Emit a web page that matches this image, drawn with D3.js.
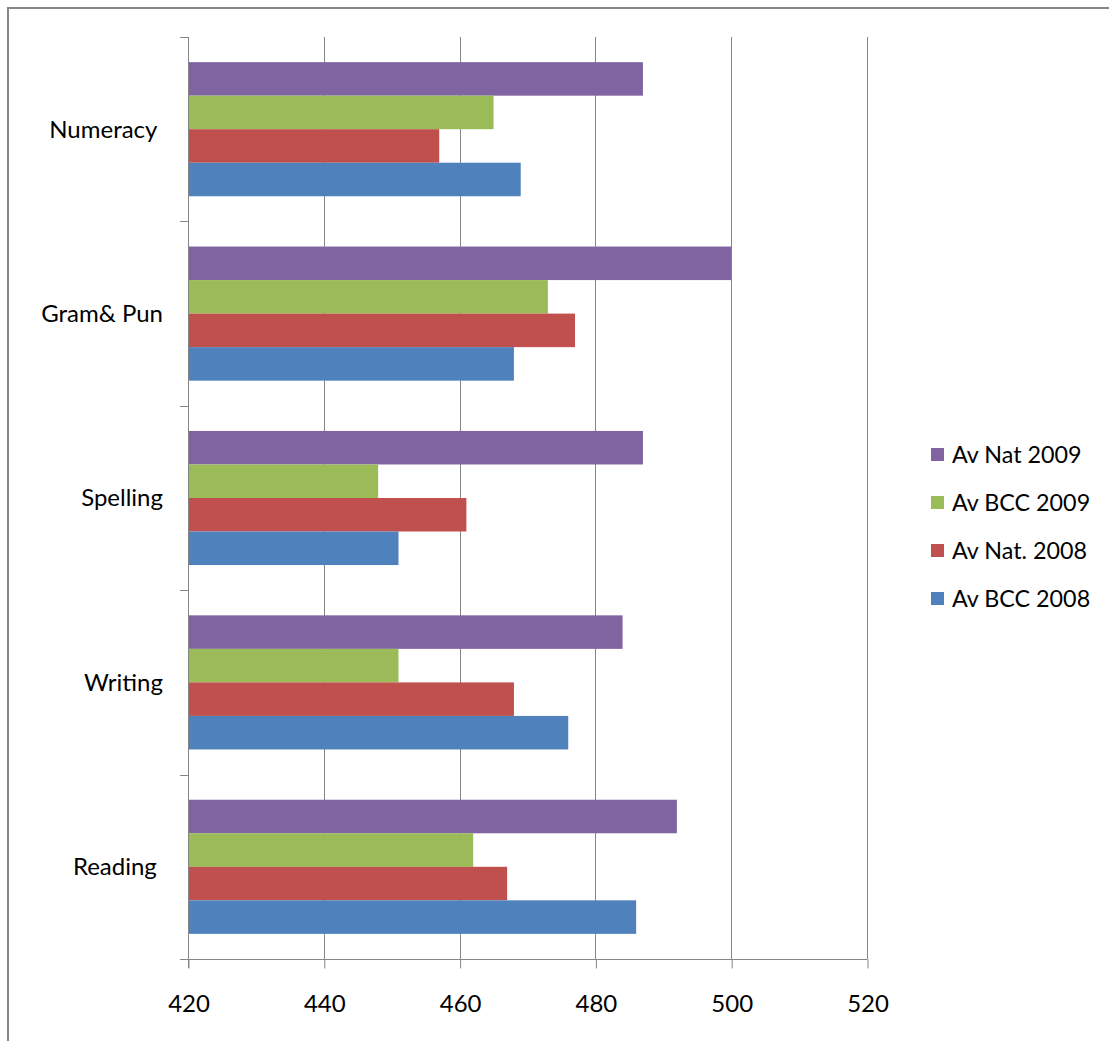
<!DOCTYPE html>
<html><head><meta charset="utf-8">
<script src="https://cdn.jsdelivr.net/npm/d3@7"></script>
<style>
html,body{margin:0;padding:0;background:#fff;}
text{font-family:Lato,"Open Sans",sans-serif;fill:#000;white-space:pre;}
</style></head>
<body>
<script>
const categories = ["Numeracy ", "Gram& Pun", "Spelling", "Writing", "Reading "];
const seriesNames = ["Av Nat 2009", "Av BCC 2009", "Av Nat. 2008", "Av BCC 2008"];
const seriesColors = ["#8064A2", "#9BBB59", "#C0504D", "#4F81BD"];
// values per series, in category order above
const avNat2009 = [487, 500, 487, 484, 492];
const avBcc2009 = [465, 473, 448, 451, 462];
const avNat2008 = [457, 477, 461, 468, 467];
const avBcc2008 = [469, 468, 451, 476, 486];
const seriesValues = [avNat2009, avBcc2009, avNat2008, avBcc2008];
const xTicks = [420, 440, 460, 480, 500, 520];

(function () {
const W = 1109, H = 1041, FS = 24, LFS = 23.3;
const svg = d3.select("body").append("svg").attr("width", W).attr("height", H);

// outer frame
svg.append("rect").attr("x", 8).attr("y", 8).attr("width", W + 10).attr("height", H + 10)
  .attr("fill", "none").attr("stroke", "#868686").attr("stroke-width", 2);

const pL = 188, pR = 867, pT = 37, pB = 959;
const x = d3.scaleLinear().domain([420, 520]).range([pL, pR]);
const y0 = d3.scaleBand().domain(categories).range([pT, pB]).paddingInner(0).paddingOuter(0);

// gridlines
svg.append("g").selectAll("line").data(xTicks.slice(1)).join("line")
  .attr("x1", d => Math.round(x(d)) + 0.5).attr("x2", d => Math.round(x(d)) + 0.5)
  .attr("y1", pT).attr("y2", pB)
  .attr("stroke", "#868686").attr("stroke-width", 1);

// bars
const bandH = y0.bandwidth();
const barH = bandH / (4 + 1.5);
const groupOff = (bandH - barH * 4) / 2;
const barY = d3.scaleBand().domain(seriesNames).range([groupOff, groupOff + barH * 4]);
seriesNames.forEach((s, si) => {
  svg.append("g").selectAll("rect").data(categories).join("rect")
    .attr("x", pL + 1)
    .attr("y", c => y0(c) + barY(s))
    .attr("width", (c, i) => x(seriesValues[si][i]) - pL - 1)
    .attr("height", barY.bandwidth())
    .attr("fill", seriesColors[si]);
});

// x axis
const xAxis = d3.axisBottom(x).tickValues(xTicks).tickSize(9).tickPadding(0).tickFormat(d3.format("d"));
const xa = svg.append("g").attr("transform", `translate(0.5,${pB + 0.5})`).call(xAxis);
xa.select(".domain").attr("stroke", "#868686").attr("d", `M${pL - 8},0H${pR}`);
xa.selectAll(".tick line").attr("stroke", "#868686");
xa.selectAll(".tick text").attr("y", 52).attr("dy", 0).attr("font-size", FS).attr("fill", "#000")
  .style("font-family", "Lato");

// y axis
const yTickVals = categories.map(c => y0(c)).concat([pB]);
const ya = svg.append("g");
ya.append("line").attr("x1", pL + 0.5).attr("x2", pL + 0.5).attr("y1", pT).attr("y2", pB + 9)
  .attr("stroke", "#868686");
ya.selectAll(".yt").data(yTickVals).join("line").attr("class", "yt")
  .attr("x1", pL - 8).attr("x2", pL).attr("y1", d => Math.round(d) + 0.5).attr("y2", d => Math.round(d) + 0.5)
  .attr("stroke", "#868686");
ya.selectAll("text").data(categories).join("text")
  .attr("x", 163).attr("y", c => y0(c) + bandH / 2).attr("dy", "0.35em")
  .attr("text-anchor", "end").attr("font-size", FS).text(c => c);

// legend
const lg = svg.append("g");
seriesNames.forEach((s, i) => {
  const cy = 455 + i * 48;
  lg.append("rect").attr("x", 931).attr("y", cy - 7).attr("width", 13).attr("height", 13).attr("fill", seriesColors[i]);
  lg.append("text").attr("x", 952).attr("y", cy).attr("dy", "0.35em").attr("font-size", LFS).text(s);
});
})();
</script>
</body></html>
